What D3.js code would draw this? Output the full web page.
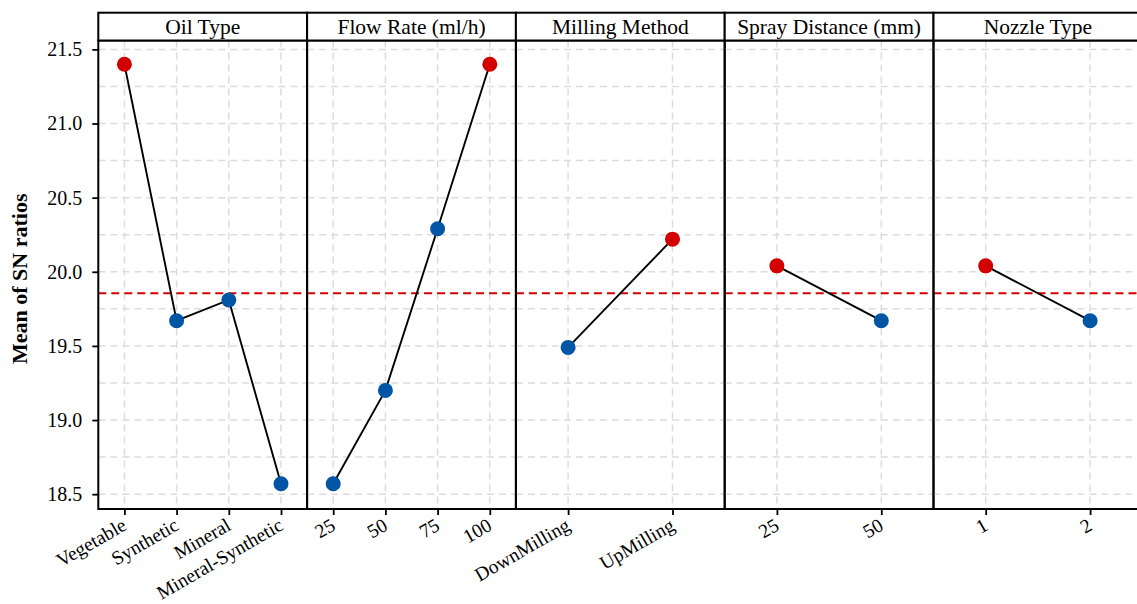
<!DOCTYPE html>
<html>
<head>
<meta charset="utf-8">
<script src="https://cdn.jsdelivr.net/npm/d3@7"></script>
<style>
  body { margin: 0; background: #fff; }
  svg { display: block; }
  text { font-family: "Liberation Serif", "Times New Roman", serif; fill: #000; }
</style>
</head>
<body>
<div id="chart"></div>
<script>
// facet titles
var factors = ["Oil Type", "Flow Rate (ml/h)", "Milling Method", "Spray Distance (mm)", "Nozzle Type"];

// levels and mean SN ratio per level
var oilLevels = ["Vegetable", "Synthetic", "Mineral", "Mineral-Synthetic"];
var oilSN = [21.40, 19.67, 19.81, 18.57];
var flowLevels = ["25", "50", "75", "100"];
var flowSN = [18.57, 19.20, 20.29, 21.40];
var millingLevels = ["DownMilling", "UpMilling"];
var millingSN = [19.49, 20.22];
var sprayLevels = ["25", "50"];
var spraySN = [20.04, 19.67];
var nozzleLevels = ["1", "2"];
var nozzleSN = [20.04, 19.67];

// overall mean (red dashed line)
var grandMean = 19.855;

// y axis
var yTicks = [18.5, 19.0, 19.5, 20.0, 20.5, 21.0, 21.5];
var yDomain = [18.40, 21.56];

var levelSets = [oilLevels, flowLevels, millingLevels, sprayLevels, nozzleLevels];
var valueSets = [oilSN, flowSN, millingSN, spraySN, nozzleSN];

var width = 1137, height = 604;
var left = 98.3,
    panelW = 208.8,
    stripTop = 12.7,
    panelTop = 40.5,
    panelBottom = 509;

var RED = "#d20000", BLUE = "#0055a5", GRID = "#dcdcdc";

var svg = d3.select("#chart").append("svg")
  .attr("width", width)
  .attr("height", height);

var y = d3.scaleLinear().domain(yDomain).range([panelBottom, panelTop]);

// minor grid halfway between majors
var yMinor = [];
for (var i = 0; i < yTicks.length - 1; i++) {
  yMinor.push((yTicks[i] + yTicks[i + 1]) / 2);
}
var yGrid = yTicks.concat(yMinor);

// y axis on the left of the first panel
var yAxisG = svg.append("g")
  .attr("transform", "translate(" + left + ",0)")
  .call(d3.axisLeft(y).tickValues(yTicks).tickFormat(d3.format(".1f")).tickSize(6).tickPadding(10));
yAxisG.select(".domain").remove();
yAxisG.selectAll(".tick line").attr("stroke", "#000").attr("stroke-width", 1.8);
yAxisG.selectAll(".tick text")
  .style("font-family", "'Liberation Serif', 'Times New Roman', serif")
  .style("font-size", "20px")
  .attr("fill", "#000");

svg.append("text")
  .attr("transform", "translate(19," + ((panelTop + panelBottom) / 2 + 4) + ") rotate(-90)")
  .attr("text-anchor", "middle")
  .attr("dominant-baseline", "central")
  .style("font-size", "22px")
  .style("font-weight", "bold")
  .text("Mean of SN ratios");

factors.forEach(function(name, k) {
  var levels = levelSets[k],
      vals = valueSets[k],
      best = d3.max(vals),
      x0 = left + k * panelW;

  var x = d3.scalePoint().domain(levels).range([0, panelW]).padding(0.5);
  var pts = levels.map(function(l, j) { return { level: l, v: vals[j] }; });

  var g = svg.append("g").attr("transform", "translate(" + x0 + ",0)");

  // grid
  g.selectAll(".hgrid")
    .data(yGrid)
    .enter()
    .append("line")
    .attr("class", "hgrid")
    .attr("x1", 0).attr("x2", panelW)
    .attr("y1", function(d) { return y(d); })
    .attr("y2", function(d) { return y(d); })
    .attr("stroke", GRID)
    .attr("stroke-width", 1.5)
    .attr("stroke-dasharray", "7,5");
  g.selectAll(".vgrid")
    .data(levels)
    .enter()
    .append("line")
    .attr("class", "vgrid")
    .attr("x1", function(d) { return x(d); })
    .attr("x2", function(d) { return x(d); })
    .attr("y1", panelTop).attr("y2", panelBottom)
    .attr("stroke", GRID)
    .attr("stroke-width", 1.5)
    .attr("stroke-dasharray", "7,5");

  // mean line
  g.append("line")
    .attr("x1", 0).attr("x2", panelW)
    .attr("y1", y(grandMean)).attr("y2", y(grandMean))
    .attr("stroke", RED)
    .attr("stroke-width", 2)
    .attr("stroke-dasharray", "8,5");

  // effect line + points
  g.append("path")
    .datum(pts)
    .attr("d", d3.line().x(function(d) { return x(d.level); }).y(function(d) { return y(d.v); }))
    .attr("fill", "none")
    .attr("stroke", "#000")
    .attr("stroke-width", 1.9);
  g.selectAll(".pt")
    .data(pts)
    .enter()
    .append("circle")
    .attr("class", "pt")
    .attr("cx", function(d) { return x(d.level); })
    .attr("cy", function(d) { return y(d.v); })
    .attr("r", 7.5)
    .attr("fill", function(d) { return d.v === best ? RED : BLUE; });

  // panel border
  g.append("rect")
    .attr("x", 0).attr("y", panelTop)
    .attr("width", panelW).attr("height", panelBottom - panelTop)
    .attr("fill", "none")
    .attr("stroke", "#000")
    .attr("stroke-width", 2);

  // strip
  g.append("rect")
    .attr("x", 0).attr("y", stripTop)
    .attr("width", panelW).attr("height", panelTop - stripTop)
    .attr("fill", "#fff")
    .attr("stroke", "#000")
    .attr("stroke-width", 2);
  g.append("text")
    .attr("x", panelW / 2)
    .attr("y", 33.5)
    .attr("text-anchor", "middle")
    .style("font-size", "21.5px")
    .text(name);

  // x axis
  var xa = g.append("g")
    .attr("transform", "translate(0," + panelBottom + ")")
    .call(d3.axisBottom(x).tickSize(6));
  xa.select(".domain").remove();
  xa.selectAll(".tick line").attr("stroke", "#000").attr("stroke-width", 1.8);
  xa.selectAll(".tick text")
    .style("font-family", "'Liberation Serif', 'Times New Roman', serif")
    .style("font-size", "19.5px")
    .attr("fill", "#000")
    .attr("text-anchor", "end")
    .attr("x", 0).attr("y", 0)
    .attr("dy", "0.71em")
    .attr("transform", "translate(-4,8) rotate(-30)");
});
</script>
</body>
</html>
